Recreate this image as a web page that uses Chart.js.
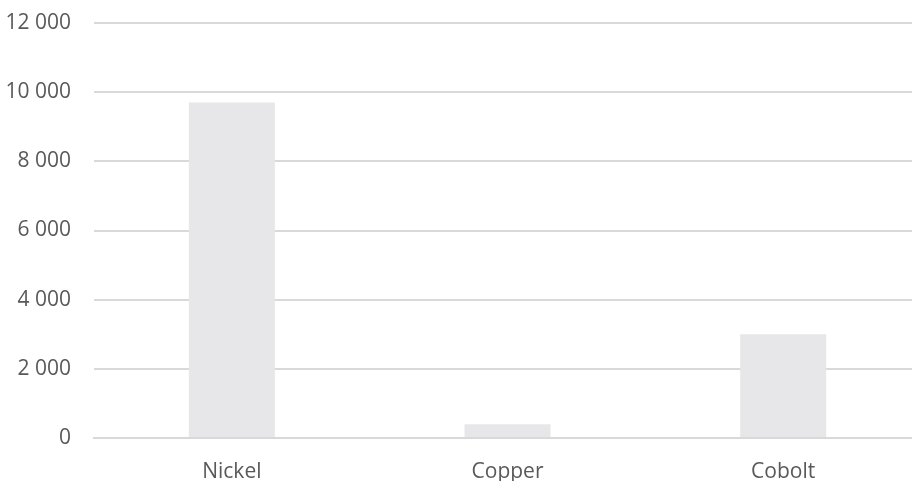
<!DOCTYPE html>
<html>
<head>
<meta charset="utf-8">
<script src="https://cdn.jsdelivr.net/npm/chart.js@4"></script>
<style>
  html, body { margin: 0; padding: 0; background: #fff; overflow: hidden; }
  #wrap { width: 921px; height: 481px; }
</style>
</head>
<body>
<div id="wrap"><canvas id="myChart"></canvas></div>
<script>
// Chart data
var categories = ['Nickel', 'Copper', 'Cobolt'];
var values = [9700, 400, 3000];
var yTicks = [0, 2000, 4000, 6000, 8000, 10000, 12000];

function formatNumber(v) {
    return v.toString().replace(/\B(?=(\d{3})+(?!\d))/g, ' ');
}

var ctx = document.getElementById('myChart').getContext('2d');
var myChart = new Chart(ctx, {
    type: 'bar',
    data: {
        labels: categories,
        datasets: [{
            data: values,
            backgroundColor: '#e7e7e9',
            borderWidth: 0,
            barPercentage: 0.312,
            categoryPercentage: 1
        }]
    },
    options: {
        responsive: true,
        maintainAspectRatio: false,
        animation: false,
        layout: { padding: { left: 6, top: 23, right: 0, bottom: 0 } },
        plugins: {
            legend: { display: false },
            tooltip: { enabled: false }
        },
        scales: {
            x: {
                grid: { display: false },
                border: { color: '#d9d9d9', width: 2 },
                afterFit: function(axis) { axis.height = 43; },
                ticks: {
                    color: '#595959',
                    font: { family: 'Open Sans', size: 21 },
                    padding: 13
                }
            },
            y: {
                min: yTicks[0],
                max: yTicks[yTicks.length - 1],
                afterBuildTicks: function(axis) {
                    axis.ticks = yTicks.map(function(v) { return { value: v }; });
                },
                afterFit: function(axis) {
                    axis.width = 88;
                    axis.paddingTop = 0;
                    axis.paddingBottom = 0;
                },
                grid: { color: '#d9d9d9', lineWidth: 2, drawTicks: false },
                border: { display: false },
                ticks: {
                    color: '#595959',
                    font: { family: 'Open Sans', size: 21 },
                    padding: 23,
                    callback: function(v) { return formatNumber(v); }
                }
            }
        }
    }
});
</script>
</body>
</html>
